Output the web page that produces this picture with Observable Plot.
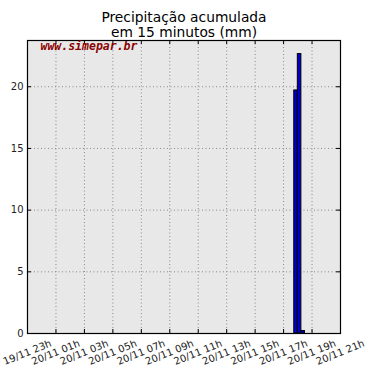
<!DOCTYPE html>
<html>
<head>
<meta charset="utf-8">
<script src="https://cdn.jsdelivr.net/npm/d3@7"></script>
<script src="https://cdn.jsdelivr.net/npm/@observablehq/plot@0.6"></script>
<style>
  html, body { margin: 0; padding: 0; background: #fff; }
  #chart { width: 371px; height: 375px; }
</style>
</head>
<body>
<div id="chart"></div>
<script>
const titleLines = ["Precipitação acumulada", "em 15 minutos (mm)"];
const watermark = "www.simepar.br";

// 15-minute interval start times (UTC) and accumulated precipitation (mm)
const barStarts = ["2009-11-20T17:45Z", "2009-11-20T18:00Z", "2009-11-20T18:15Z"];
const barValues = [19.7, 22.65, 0.2];

const xTickTimes = [
  "2009-11-19T23:00Z", "2009-11-20T01:00Z", "2009-11-20T03:00Z", "2009-11-20T05:00Z",
  "2009-11-20T07:00Z", "2009-11-20T09:00Z", "2009-11-20T11:00Z", "2009-11-20T13:00Z",
  "2009-11-20T15:00Z", "2009-11-20T17:00Z", "2009-11-20T19:00Z", "2009-11-20T21:00Z"
];
const xTickLabels = [
  "19/11 23h", "20/11 01h", "20/11 03h", "20/11 05h", "20/11 07h", "20/11 09h",
  "20/11 11h", "20/11 13h", "20/11 15h", "20/11 17h", "20/11 19h", "20/11 21h"
];
const yTicks = [0, 5, 10, 15, 20];
const yMax = 23.75;

const bars = barStarts.map((s, i) => {
  const t = new Date(s);
  return {x1: t, x2: new Date(+t + 15 * 60 * 1000), y: barValues[i]};
});
const xt = xTickTimes.map((s, i) => ({t: new Date(s), label: xTickLabels[i]}));

const W = 371, H = 375, mL = 27, mR = 31, mT = 40, mB = 42;
const frameH = H - mT - mB, frameW = W - mL - mR;
const font = "DejaVu Sans, sans-serif";

const chart = Plot.plot({
  width: W, height: H,
  marginLeft: mL, marginRight: mR, marginTop: mT, marginBottom: mB,
  style: {fontFamily: font, background: "#fff", overflow: "visible"},
  x: {type: "utc", domain: [xt[0].t, xt[xt.length - 1].t], axis: null},
  y: {domain: [0, yMax], axis: null},
  marks: [
    Plot.frame({fill: "#e8e8e8", stroke: null}),
    Plot.ruleX(xt.slice(1, -1), {x: "t", stroke: "#888", strokeDasharray: "1,2.5", strokeWidth: 1}),
    Plot.ruleY(yTicks.slice(1), {y: d => d, stroke: "#888", strokeDasharray: "1,2.5", strokeWidth: 1}),
    // inner tick marks
    Plot.ruleX(xt, {x: "t", insetTop: frameH - 4, stroke: "#000"}),
    Plot.ruleX(xt, {x: "t", insetBottom: frameH - 4, stroke: "#000"}),
    Plot.ruleY(yTicks, {y: d => d, insetRight: frameW - 4, stroke: "#000"}),
    Plot.ruleY(yTicks, {y: d => d, insetLeft: frameW - 4, stroke: "#000"}),
    Plot.rectY(bars, {x1: "x1", x2: "x2", y: "y", fill: "#0000cc", stroke: "#000", strokeWidth: 1}),
    Plot.frame({stroke: "#000", strokeWidth: 1.2}),
    // y tick labels
    Plot.text(yTicks, {y: d => d, text: d => String(d), frameAnchor: "left", dx: -4, textAnchor: "end", fontSize: 10, fill: "#222"}),
    // x tick labels
    Plot.text(xt, {x: "t", text: "label", frameAnchor: "bottom", dy: 22, dx: 1, rotate: -22, textAnchor: "middle", fontSize: 10, fill: "#222"}),
    // watermark
    Plot.text([watermark], {frameAnchor: "top-left", dx: 13, dy: 1, lineAnchor: "top", text: d => d,
      fontFamily: "DejaVu Sans Mono, monospace", fontWeight: "bold", fontStyle: "italic", fontSize: 11.5, fill: "#8b0000"}),
    // title
    Plot.text([titleLines[0]], {frameAnchor: "top", dy: -19, lineAnchor: "bottom", text: d => d, fontSize: 13.8, fill: "#000"}),
    Plot.text([titleLines[1]], {frameAnchor: "top", dy: -4, lineAnchor: "bottom", text: d => d, fontSize: 13.8, fill: "#000"})
  ]
});
document.getElementById("chart").append(chart);
</script>
</body>
</html>
